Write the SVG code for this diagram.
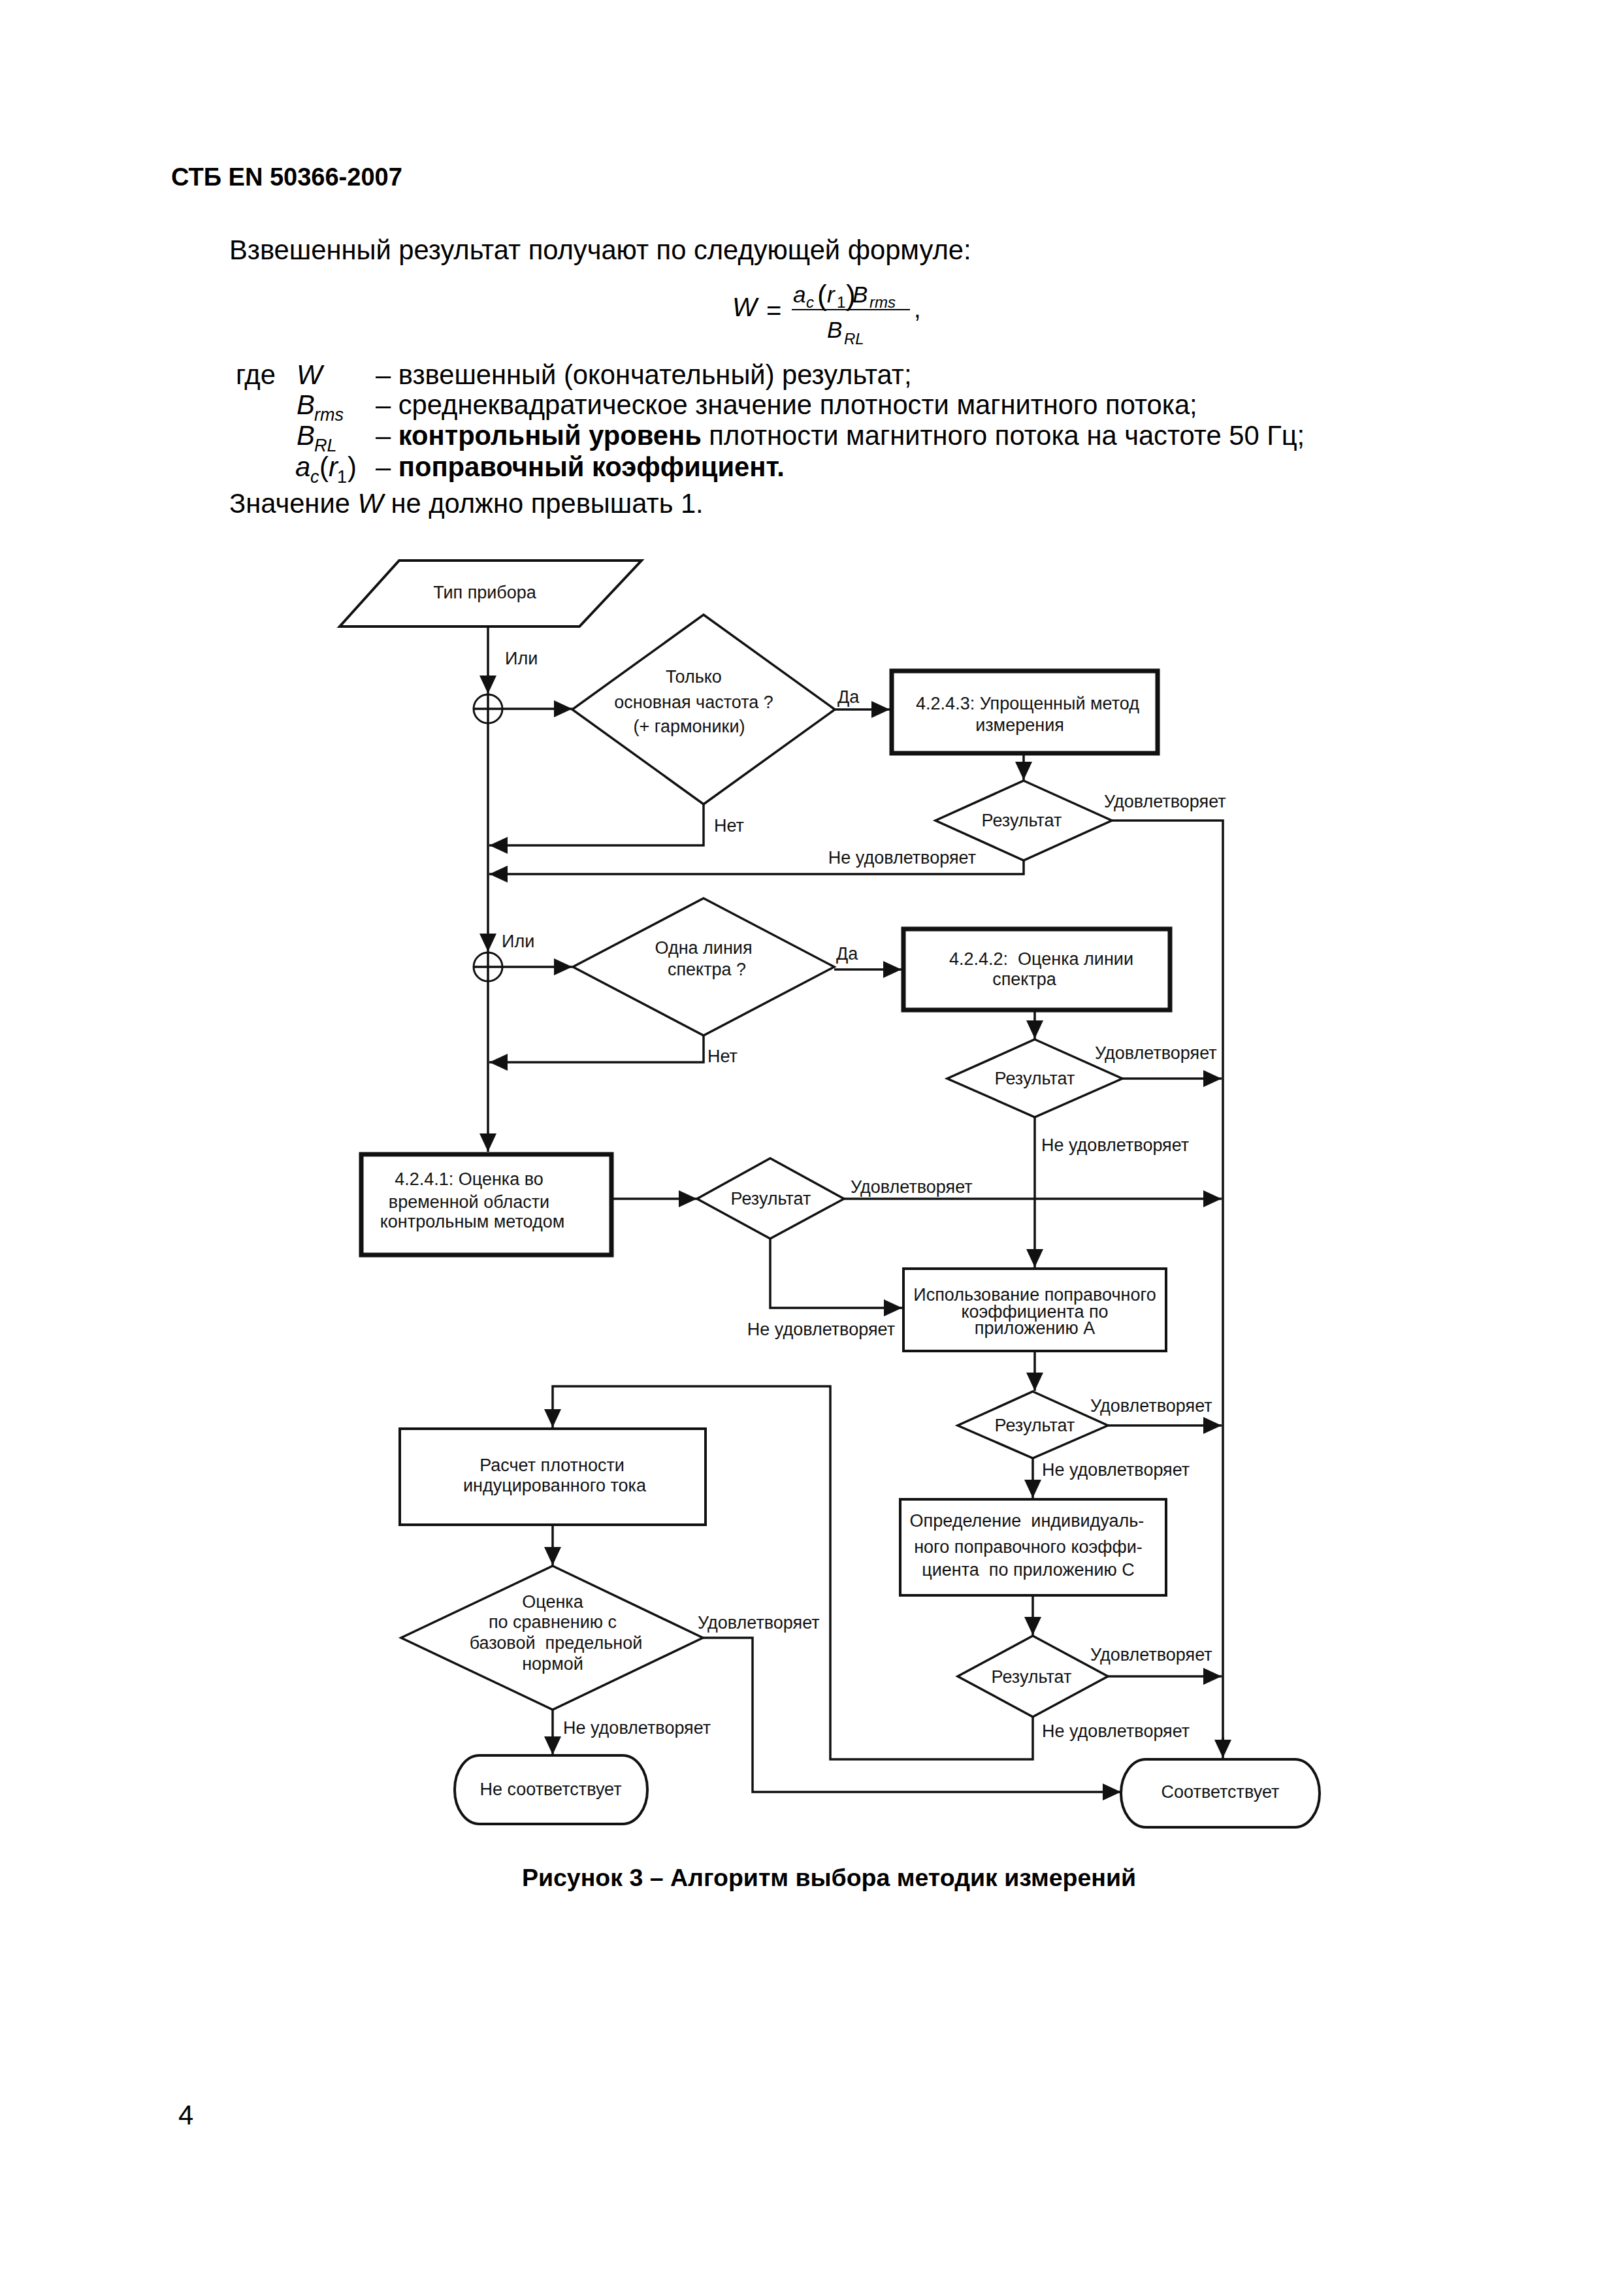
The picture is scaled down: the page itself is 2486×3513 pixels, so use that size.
<svg xmlns="http://www.w3.org/2000/svg" width="2486" height="3513" viewBox="0 0 2486 3513">
<style>
  .body { font-family: "Liberation Sans", Arial, sans-serif; font-size: 41.7px; fill: #000; }
  .hdr { font-family: "Liberation Sans", Arial, sans-serif; font-size: 38px; font-weight: bold; fill: #000; }
  .cap { font-family: "Liberation Sans", Arial, sans-serif; font-size: 37.5px; font-weight: bold; fill: #000; }
  .m { font-family: "Liberation Sans", Arial, sans-serif; font-style: italic; fill: #000; }
  .mu { font-family: "Liberation Sans", Arial, sans-serif; fill: #000; }
  .t { font-family: "Liberation Sans", Arial, sans-serif; font-size: 27px; fill: #111; }
  .c { text-anchor: middle; }
  .e { text-anchor: end; }
  .pre { white-space: pre; }
  .shape { fill: #fff; stroke: #111; stroke-width: 3.5; }
  .thick { fill: #fff; stroke: #111; stroke-width: 7; }
  .box { fill: #fff; stroke: #111; stroke-width: 4; }
  .ln { fill: none; stroke: #111; stroke-width: 3.5; stroke-linejoin: miter; }
  .arr { fill: none; stroke: #111; stroke-width: 3.5; marker-end: url(#ah); }
</style>
<defs>
  <marker id="ah" viewBox="0 0 28 26" refX="28" refY="13" markerWidth="28" markerHeight="26" markerUnits="userSpaceOnUse" orient="auto">
    <path d="M0,0 L28,13 L0,26 z" fill="#111"/>
  </marker>
</defs>
<rect width="2486" height="3513" fill="#fff"/>

<!-- Page text -->
<g id="page-text">
  <text class="hdr" x="262" y="284">СТБ EN 50366-2007</text>
  <text class="body" x="351" y="397">Взвешенный результат получают по следующей формуле:</text>

  <!-- formula -->
  <text class="m" x="1121" y="484" font-size="40">W</text>
  <text class="mu" x="1173" y="489" font-size="40">=</text>
  <text class="m" x="1214" y="463" font-size="35">a</text>
  <text class="m" x="1234" y="471" font-size="24">c</text>
  <text class="mu" x="1251" y="467" font-size="44">(</text>
  <text class="m" x="1266" y="463" font-size="35">r</text>
  <text class="mu" x="1281" y="471" font-size="24">1</text>
  <text class="mu" x="1295" y="467" font-size="44">)</text>
  <text class="m" x="1305" y="463" font-size="35">B</text>
  <text class="m" x="1331" y="471" font-size="24">rms</text>
  <line x1="1212" y1="474" x2="1393" y2="474" stroke="#000" stroke-width="2"/>
  <text class="m" x="1266" y="517" font-size="35">B</text>
  <text class="m" x="1292" y="527" font-size="24">RL</text>
  <text class="mu" x="1399" y="486" font-size="38">,</text>

  <!-- definitions -->
  <text class="body" x="361" y="588">где</text>
  <text class="body" x="454" y="588" font-style="italic">W</text>
  <text class="body" x="575" y="588">– взвешенный (окончательный) результат;</text>

  <text class="body" x="454" y="634" font-style="italic">B</text>
  <text class="m" x="481" y="644" font-size="27">rms</text>
  <text class="body" x="575" y="634">– среднеквадратическое значение плотности магнитного потока;</text>

  <text class="body" x="454" y="681" font-style="italic">B</text>
  <text class="m" x="481" y="691" font-size="27">RL</text>
  <text class="body" x="575" y="681">– <tspan font-weight="bold">контрольный уровень</tspan> плотности магнитного потока на частоте 50 Гц;</text>

  <text class="body" x="452" y="729" font-style="italic">a</text>
  <text class="m" x="475" y="739" font-size="27">c</text>
  <text class="body" x="489" y="729">(</text>
  <text class="body" x="503" y="729" font-style="italic">r</text>
  <text class="mu" x="516" y="739" font-size="27">1</text>
  <text class="body" x="532" y="729">)</text>
  <text class="body" x="575" y="729">– <tspan font-weight="bold">поправочный коэффициент.</tspan></text>

  <text class="body" x="351" y="785">Значение <tspan font-style="italic">W</tspan> не должно превышать 1.</text>
</g>

<!-- Connectors -->
<g id="connectors">
  <!-- main vertical trunk -->
  <path class="arr" d="M747,959 V1062"/>
  <path class="arr" d="M747,1063 V1457"/>
  <path class="arr" d="M747,1458 V1763"/>
  <!-- junction circles -->
  <circle cx="747" cy="1085" r="22" fill="none" stroke="#111" stroke-width="3"/>
  <circle cx="747" cy="1480" r="22" fill="none" stroke="#111" stroke-width="3"/>
  <path class="arr" d="M725,1085 H876"/>
  <path class="arr" d="M725,1480 H876"/>

  <!-- diamond 1 -->
  <path class="arr" d="M1278,1086 H1362"/>
  <path class="arr" d="M1077,1231 V1294 H749"/>
  <!-- box 4.2.4.3 -> result -->
  <path class="arr" d="M1567,1156 V1194"/>
  <path class="ln" d="M1702,1256 H1872 V2665"/>
  <path class="arr" d="M1872,2660 V2691"/>
  <path class="arr" d="M1567,1317 V1338 H749"/>

  <!-- diamond 3 -->
  <path class="arr" d="M1277,1484 H1380"/>
  <path class="arr" d="M1077,1585 V1626 H749"/>
  <path class="arr" d="M1584,1549 V1590"/>
  <path class="arr" d="M1718,1651 H1870"/>
  <path class="arr" d="M1584,1710 V1940"/>

  <!-- box 4.2.4.1 -> result 5 -->
  <path class="arr" d="M938,1835 H1067"/>
  <path class="arr" d="M1292,1835 H1870"/>
  <path class="arr" d="M1179,1896 V2002 H1381"/>

  <!-- correction A -> result 6 -->
  <path class="arr" d="M1584,2070 V2129"/>
  <path class="arr" d="M1696,2182 H1870"/>
  <path class="arr" d="M1581,2232 V2293"/>
  <!-- correction C -> result 7 -->
  <path class="arr" d="M1581,2444 V2503"/>
  <path class="arr" d="M1696,2566 H1870"/>
  <path class="arr" d="M1581,2628 V2693 H1271 V2122 H846 V2185"/>

  <!-- induced current -->
  <path class="arr" d="M846,2336 V2396"/>
  <path class="arr" d="M1076,2507 H1152 V2743 H1716"/>
  <path class="arr" d="M846,2617 V2686"/>

  <!-- connector labels -->
  <text class="t" x="773" y="1017">Или</text>
  <text class="t" x="768" y="1450">Или</text>
  <text class="t" x="1282" y="1076">Да</text>
  <text class="t" x="1093" y="1273">Нет</text>
  <text class="t" x="1690" y="1236">Удовлетворяет</text>
  <text class="t e" x="1494" y="1322">Не удовлетворяет</text>
  <text class="t" x="1280" y="1469">Да</text>
  <text class="t" x="1083" y="1626">Нет</text>
  <text class="t" x="1676" y="1621">Удовлетворяет</text>
  <text class="t" x="1594" y="1762">Не удовлетворяет</text>
  <text class="t" x="1302" y="1826">Удовлетворяет</text>
  <text class="t e" x="1370" y="2044">Не удовлетворяет</text>
  <text class="t" x="1669" y="2161">Удовлетворяет</text>
  <text class="t" x="1595" y="2259">Не удовлетворяет</text>
  <text class="t" x="1669" y="2542">Удовлетворяет</text>
  <text class="t" x="1595" y="2659">Не удовлетворяет</text>
  <text class="t" x="1068" y="2493">Удовлетворяет</text>
  <text class="t" x="862" y="2654">Не удовлетворяет</text>
</g>

<!-- Nodes -->
<g id="n-device-type">
  <polygon class="box" points="611,858 982,858 887,959 520,959"/>
  <text class="t c" x="742" y="916">Тип прибора</text>
</g>

<g id="n-fundamental">
  <polygon class="shape" points="1077,941 1278,1086 1077,1231 876,1086"/>
  <text class="t c" x="1062" y="1045">Только</text>
  <text class="t c" x="1062" y="1084">основная частота ?</text>
  <text class="t c" x="1055" y="1121">(+ гармоники)</text>
</g>

<g id="n-4243">
  <rect class="thick" x="1365" y="1027" width="407" height="126"/>
  <text class="t c" x="1573" y="1086">4.2.4.3: Упрощенный метод</text>
  <text class="t c" x="1561" y="1119">измерения</text>
</g>

<g id="n-result-1">
  <polygon class="shape" points="1567,1195 1702,1256 1567,1317 1432,1256"/>
  <text class="t c" x="1564" y="1265">Результат</text>
</g>

<g id="n-one-line">
  <polygon class="shape" points="1077,1375 1277,1480 1077,1585 877,1480"/>
  <text class="t c" x="1077" y="1460">Одна линия</text>
  <text class="t c" x="1082" y="1493">спектра ?</text>
</g>

<g id="n-4242">
  <rect class="thick" x="1383" y="1422" width="408" height="124"/>
  <text class="t c pre" x="1594" y="1477" xml:space="preserve">4.2.4.2:  Оценка линии</text>
  <text class="t c" x="1568" y="1508">спектра</text>
</g>

<g id="n-result-2">
  <polygon class="shape" points="1584,1591 1718,1651 1584,1710 1450,1651"/>
  <text class="t c" x="1584" y="1660">Результат</text>
</g>

<g id="n-4241">
  <rect class="thick" x="553" y="1767" width="383" height="154"/>
  <text class="t c" x="718" y="1814">4.2.4.1: Оценка во</text>
  <text class="t c" x="718" y="1849">временной области</text>
  <text class="t c" x="723" y="1879">контрольным методом</text>
</g>

<g id="n-result-3">
  <polygon class="shape" points="1179,1773 1292,1835 1179,1896 1067,1835"/>
  <text class="t c" x="1180" y="1844">Результат</text>
</g>

<g id="n-correction-a">
  <rect class="box" x="1383" y="1942" width="402" height="126"/>
  <text class="t c" x="1584" y="1991">Использование поправочного</text>
  <text class="t c" x="1584" y="2017">коэффициента по</text>
  <text class="t c" x="1584" y="2042">приложению А</text>
</g>

<g id="n-result-4">
  <polygon class="shape" points="1581,2130 1696,2182 1581,2232 1466,2182"/>
  <text class="t c" x="1584" y="2191">Результат</text>
</g>

<g id="n-correction-c">
  <rect class="box" x="1378" y="2295" width="407" height="147"/>
  <text class="t c pre" x="1572" y="2337" xml:space="preserve">Определение  индивидуаль-</text>
  <text class="t c" x="1574" y="2377">ного поправочного коэффи-</text>
  <text class="t c pre" x="1574" y="2412" xml:space="preserve">циента  по приложению С</text>
</g>

<g id="n-result-5">
  <polygon class="shape" points="1581,2504 1696,2566 1581,2628 1466,2566"/>
  <text class="t c" x="1579" y="2576">Результат</text>
</g>

<g id="n-induced">
  <rect class="box" x="612" y="2187" width="468" height="147"/>
  <text class="t c" x="845" y="2252">Расчет плотности</text>
  <text class="t c" x="849" y="2283">индуцированного тока</text>
</g>

<g id="n-basic-limit">
  <polygon class="shape" points="846,2397 1076,2507 846,2617 614,2507"/>
  <text class="t c" x="846" y="2461">Оценка</text>
  <text class="t c" x="846" y="2492">по сравнению с</text>
  <text class="t c pre" x="851" y="2524" xml:space="preserve">базовой  предельной</text>
  <text class="t c" x="846" y="2556">нормой</text>
</g>

<g id="n-not-comply">
  <rect class="box" x="696" y="2687" width="295" height="105" rx="38" ry="52"/>
  <text class="t c" x="843" y="2748">Не соответствует</text>
</g>

<g id="n-comply">
  <rect class="box" x="1716" y="2693" width="304" height="104" rx="38" ry="52"/>
  <text class="t c" x="1868" y="2752">Соответствует</text>
</g>

<g id="caption">
  <text class="cap c" x="1269" y="2887">Рисунок 3 – Алгоритм выбора методик измерений</text>
  <text class="body" x="273" y="3252">4</text>
</g>
</svg>
